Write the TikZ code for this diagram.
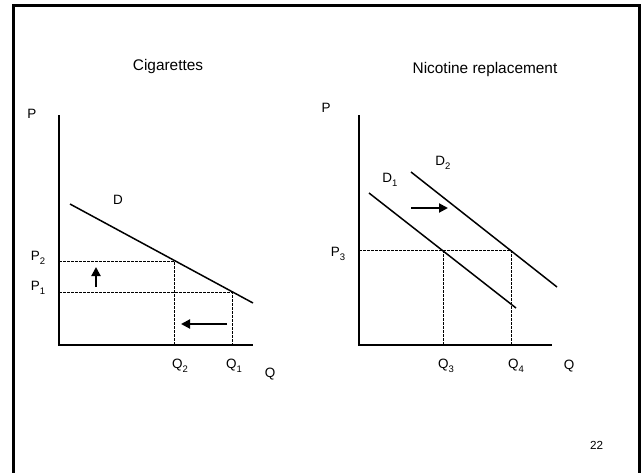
\documentclass[tikz,border=0pt]{standalone}
\usepackage{fontspec}
\setmainfont{Liberation Sans}
\usetikzlibrary{arrows.meta}
\newcommand{\lowsub}[1]{\raisebox{-0.55ex}{\fontsize{9.5}{10}\selectfont #1}}
\begin{document}
\begin{tikzpicture}[x=1pt,y=-1pt,
  axis/.style={line width=2pt},
  demand/.style={line width=1.5pt},
  guide/.style={line width=0.6pt, dash pattern=on 2.5pt off 1.5pt},
  shiftarrow/.style={line width=2pt,-{Triangle[length=9pt,width=9pt]}},
  lbl/.style={font=\fontsize{13.5}{14}\selectfont, inner sep=0pt},
  ttl/.style={font=\fontsize{15.4}{16}\selectfont, inner sep=0pt},
  pg/.style={font=\fontsize{11.7}{12}\selectfont, inner sep=0pt}]
\useasboundingbox (0,0) rectangle (642,472);
\draw[line width=3pt] (13.5,480) -- (13.5,5) -- (639.5,5) -- (639.5,480);

% titles
\node[ttl] (t1) at (168,67) {Cigarettes};
\node[ttl] (t2) at (485,70) {Nicotine replacement};
\node[pg] (pgno) at (596.5,445) {22};

% ---------- left graph ----------
\coordinate (O1) at (59,345);
\coordinate (Y1) at (59,115);
\coordinate (X1) at (253,345);
\draw[axis] (Y1) -- (O1) -- (X1);
\coordinate (Da) at (70,204);
\coordinate (Db) at (253,303);
\draw[demand] (Da) -- (Db);
\coordinate (P2a) at (59,261);
\coordinate (E2) at (174,261);
\coordinate (Q2b) at (174,345);
\coordinate (P1a) at (59,292);
\coordinate (E1) at (232,292);
\coordinate (Q1b) at (232,345);
\draw[guide] (P2a) -- (E2) -- (Q2b);
\draw[guide] (P1a) -- (E1) -- (Q1b);
\coordinate (ua) at (96,287);
\coordinate (ub) at (96,267);
\draw[shiftarrow] (ua) -- (ub);
\coordinate (la) at (227,324);
\coordinate (lb) at (181,324);
\draw[shiftarrow] (la) -- (lb);

\node[lbl] (Pl) at (32,114) {P};
\node[lbl] (Dl) at (118,200) {D};
\node[lbl] (P2l) at (38,258) {P\lowsub{2}};
\node[lbl] (P1l) at (38,288) {P\lowsub{1}};
\node[lbl] (Q2l) at (180,366) {Q\lowsub{2}};
\node[lbl] (Q1l) at (234,366) {Q\lowsub{1}};
\node[lbl] (Ql) at (270,374) {Q};

% ---------- right graph ----------
\coordinate (O2) at (359,345);
\coordinate (Y2) at (359,115);
\coordinate (X2) at (552,345);
\draw[axis] (Y2) -- (O2) -- (X2);
\coordinate (D1a) at (369,193);
\coordinate (D1b) at (516,308);
\coordinate (D2a) at (411,172);
\coordinate (D2b) at (557,287);
\draw[demand] (D1a) -- (D1b);
\draw[demand] (D2a) -- (D2b);
\coordinate (P3a) at (359,250);
\coordinate (E3) at (443,250);
\coordinate (E4) at (511,250);
\coordinate (Q3b) at (443,345);
\coordinate (Q4b) at (511,345);
\draw[guide] (P3a) -- (E4) -- (Q4b);
\draw[guide] (E3) -- (Q3b);
\coordinate (ra) at (411,208);
\coordinate (rb) at (448,208);
\draw[shiftarrow] (ra) -- (rb);

\node[lbl] (Pr) at (326,108) {P};
\node[lbl] (D2l) at (443,163) {D\lowsub{2}};
\node[lbl] (D1l) at (390,180) {D\lowsub{1}};
\node[lbl] (P3l) at (338,254) {P\lowsub{3}};
\node[lbl] (Q3l) at (446,366) {Q\lowsub{3}};
\node[lbl] (Q4l) at (516,366) {Q\lowsub{4}};
\node[lbl] (Qr) at (569,366) {Q};
\end{tikzpicture}
\end{document}
